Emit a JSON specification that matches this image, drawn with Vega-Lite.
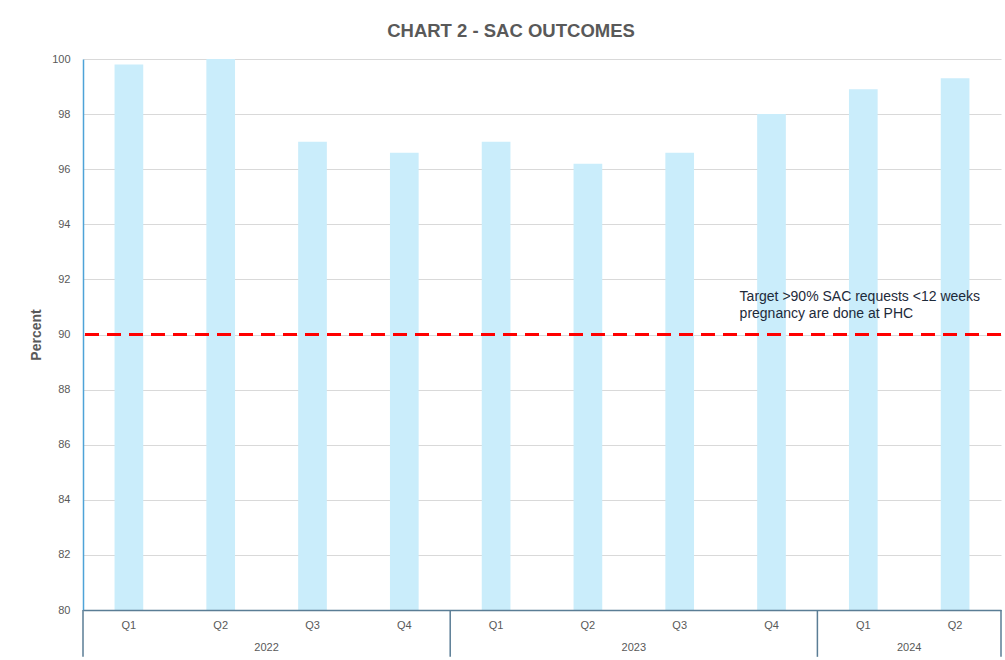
{
  "$schema": "https://vega.github.io/schema/vega-lite/v6.json",
  "width": 918,
  "height": 551,
  "autosize": {"type": "none"},
  "padding": {"left": 83, "top": 59, "right": 4, "bottom": 50},
  "background": "white",
  "title": {
    "text": "CHART 2 - SAC OUTCOMES",
    "anchor": "middle",
    "dx": -31,
    "offset": 13,
    "fontSize": 18.5,
    "fontWeight": "bold",
    "color": "#595959",
    "font": "Liberation Sans"
  },
  "config": {
    "view": {"stroke": null},
    "font": "Liberation Sans",
    "axis": {"labelFont": "Liberation Sans", "titleFont": "Liberation Sans"}
  },
  "datasets": {
    "sac": [
      {"period": "2022 Q1", "value": 99.8},
      {"period": "2022 Q2", "value": 100},
      {"period": "2022 Q3", "value": 97.0},
      {"period": "2022 Q4", "value": 96.6},
      {"period": "2023 Q1", "value": 97.0},
      {"period": "2023 Q2", "value": 96.2},
      {"period": "2023 Q3", "value": 96.6},
      {"period": "2023 Q4", "value": 98.0},
      {"period": "2024 Q1", "value": 98.9},
      {"period": "2024 Q2", "value": 99.3}
    ],
    "target": [
      {"target": 90, "note": ["Target >90% SAC  requests <12 weeks", "pregnancy are done at PHC"]}
    ],
    "years": [
      {"year": "2022", "at": "2022 Q2"},
      {"year": "2023", "at": "2023 Q2"},
      {"year": "2024", "at": "2024 Q1"}
    ],
    "yearStarts": [
      {"period": "2022 Q1"},
      {"period": "2023 Q1"},
      {"period": "2024 Q1"}
    ],
    "lastPeriod": [
      {"period": "2024 Q2"}
    ]
  },
  "layer": [
    {
      "data": {"name": "sac"},
      "mark": {"type": "bar", "color": "#caedfb", "width": {"band": 0.3125}},
      "encoding": {
        "x": {
          "field": "period",
          "type": "ordinal",
          "sort": null,
          "scale": {"paddingInner": 0, "paddingOuter": 0},
          "axis": {
            "title": null,
            "labelExpr": "split(datum.value, ' ')[1]",
            "labelAngle": 0,
            "labelFontSize": 11,
            "labelColor": "#595959",
            "labelPadding": 9,
            "ticks": false,
            "domainColor": "#5a7d95",
            "domainWidth": 1.5,
            "grid": false,
            "zindex": 1
          }
        },
        "y": {
          "field": "value",
          "type": "quantitative",
          "scale": {"domain": [80, 100], "nice": false, "zero": false},
          "axis": {
            "title": "Percent",
            "titleFontSize": 14,
            "titleFontWeight": "bold",
            "titleColor": "#595959",
            "titlePadding": 8,
            "values": [80, 82, 84, 86, 88, 90, 92, 94, 96, 98, 100],
            "labelFontSize": 11,
            "labelColor": "#595959",
            "labelPadding": 13,
            "ticks": false,
            "domainColor": "#4ea3d8",
            "domainWidth": 1.5,
            "gridColor": "#d9d9d9",
            "gridWidth": 1
          }
        },
        "y2": {"datum": 80}
      }
    },
    {
      "data": {"name": "target"},
      "mark": {"type": "rule", "color": "#ff0000", "strokeWidth": 3, "strokeDash": [14, 8]},
      "encoding": {"y": {"field": "target", "type": "quantitative"}}
    },
    {
      "data": {"name": "target"},
      "mark": {
        "type": "text",
        "align": "left",
        "baseline": "middle",
        "lineHeight": 17,
        "fontSize": 14,
        "color": "#1d2a3a",
        "dx": 14,
        "dy": -38
      },
      "encoding": {
        "x": {"datum": "2023 Q4", "bandPosition": 0},
        "y": {"field": "target", "type": "quantitative"},
        "text": {"field": "note"}
      }
    },
    {
      "data": {"name": "years"},
      "mark": {"type": "text", "fontSize": 11, "color": "#595959", "baseline": "middle", "dy": 38},
      "encoding": {
        "x": {"field": "at", "type": "ordinal", "bandPosition": 1},
        "y": {"datum": 80},
        "text": {"field": "year"}
      }
    },
    {
      "data": {"name": "yearStarts"},
      "mark": {"type": "rule", "color": "#5a7d95", "strokeWidth": 1.5},
      "encoding": {
        "x": {"field": "period", "type": "ordinal", "bandPosition": 0},
        "y": {"datum": 80},
        "y2": {"datum": 78.3}
      }
    },
    {
      "data": {"name": "lastPeriod"},
      "mark": {"type": "rule", "color": "#5a7d95", "strokeWidth": 1.5},
      "encoding": {
        "x": {"field": "period", "type": "ordinal", "bandPosition": 1},
        "y": {"datum": 80},
        "y2": {"datum": 78.3}
      }
    }
  ]
}
